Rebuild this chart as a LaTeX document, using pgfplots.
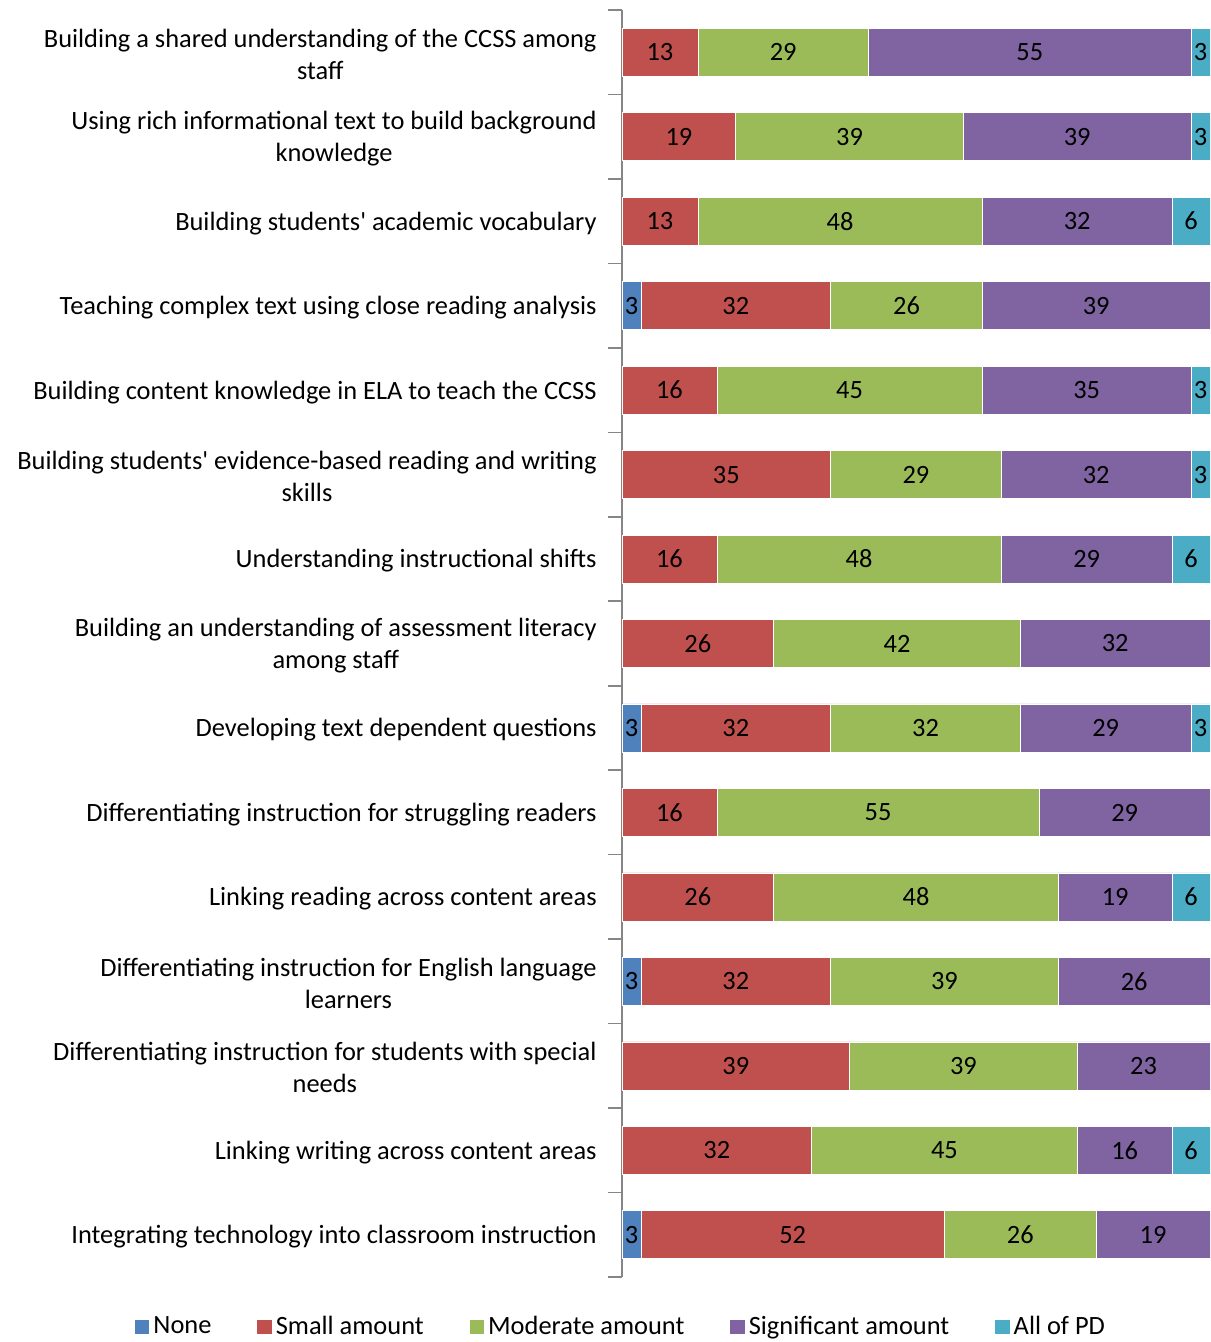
\documentclass[border=0pt]{standalone}
\usepackage{fontspec}
\setmainfont{Carlito}
\usepackage{pgfplots}
\pgfplotsset{compat=1.18}
\usepackage{pgfplotstable}

\definecolor{cNone}{HTML}{4F81BD}
\definecolor{cSmall}{HTML}{C0504D}
\definecolor{cMod}{HTML}{9BBB59}
\definecolor{cSig}{HTML}{8064A2}
\definecolor{cAll}{HTML}{4BACC6}
\definecolor{axgray}{HTML}{868686}

% percent of 31 respondents, one row per item (top to bottom)
\pgfplotstableread{
y  none  small  mod    sig    all
1  0     12.90  29.03  54.84  3.23
2  0     19.35  38.71  38.71  3.23
3  0     12.90  48.39  32.26  6.45
4  3.23  32.26  25.81  38.70  0
5  0     16.13  45.16  35.48  3.23
6  0     35.48  29.03  32.26  3.23
7  0     16.13  48.39  29.03  6.45
8  0     25.81  41.94  32.25  0
9  3.23  32.26  32.26  29.03  3.22
10 0     16.13  54.84  29.03  0
11 0     25.81  48.39  19.35  6.45
12 3.23  32.26  38.71  25.80  0
13 0     38.71  38.71  22.58  0
14 0     32.26  45.16  16.13  6.45
15 3.23  51.61  25.81  19.35  0
}\data

\begin{document}
\begin{tikzpicture}
\begin{axis}[
    at={(0,0)}, anchor=south west,
    scale only axis,
    width=294pt, height=633.5pt,
    xbar stacked,
    bar width=24pt,
    xmin=0, xmax=100,
    ymin=0.5, ymax=15.5,
    y dir=reverse,
    axis x line=none,
    axis y line=left,
    axis line style={-, draw=axgray, line width=0.8pt},
    ytick={1,...,15},
    major tick length=0pt,
    yticklabels={
        {Building a shared understanding of the CCSS among\\staff},
        {Using rich informational text to build background\\knowledge},
        {Building students\textquotesingle\ academic vocabulary},
        {Teaching complex text using close reading analysis},
        {Building content knowledge in ELA to teach the CCSS},
        {Building students\textquotesingle\ evidence-based reading and writing\\skills},
        {Understanding instructional shifts},
        {Building an understanding of assessment literacy\\among staff},
        {Developing text dependent questions},
        {Differentiating instruction for struggling readers},
        {Linking reading across content areas},
        {Differentiating instruction for English language\\learners},
        {Differentiating instruction for students with special\\needs},
        {Linking writing across content areas},
        {Integrating technology into classroom instruction}},
    yticklabel style={align=center, font=\fontsize{13.2}{16}\selectfont, inner sep=0pt,
        xshift=-12.5pt, yshift=-1pt},
    extra y ticks={0.5,1.5,2.5,3.5,4.5,5.5,6.5,7.5,8.5,9.5,10.5,11.5,12.5,13.5,14.5,15.5},
    extra y tick labels={},
    extra y tick style={major tick length=7pt, tick align=outside,
        tick style={draw=axgray, line width=0.8pt}},
    ytick pos=left,
    point meta=explicit,
    nodes near coords={\pgfmathfloatifflags{\pgfplotspointmeta}{0}{}{\pgfmathprintnumber[fixed,precision=0,assume math mode=true]{\pgfplotspointmeta}}},
    every node near coord/.append style={font=\fontsize{13.2}{16}\selectfont, text=black,
        anchor=center},
    every axis plot/.append style={draw=white, line width=0.3pt},
    legend style={at={(axis description cs:0,0)}, anchor=center, yshift=-25pt,
        draw=none, font=\fontsize{13.2}{16}\selectfont,
        /tikz/every even column/.append style={column sep=21pt}},
    legend columns=-1,
    legend image code/.code={\fill[#1, draw=none] (0pt,-3.6pt) rectangle (7.2pt,3.6pt);},
]
\addplot[fill=cNone] table[x=none, y=y, meta=none] {\data};
\addplot[fill=cSmall] table[x=small, y=y, meta=small] {\data};
\addplot[fill=cMod] table[x=mod, y=y, meta=mod] {\data};
\addplot[fill=cSig] table[x=sig, y=y, meta=sig] {\data};
\addplot[fill=cAll] table[x=all, y=y, meta=all] {\data};
\legend{None, Small amount, Moderate amount, Significant amount, All of PD}
\end{axis}
\pgfresetboundingbox
\path[use as bounding box] (-311pt,-32.5pt) rectangle (294pt,638.5pt);
\end{tikzpicture}
\end{document}
